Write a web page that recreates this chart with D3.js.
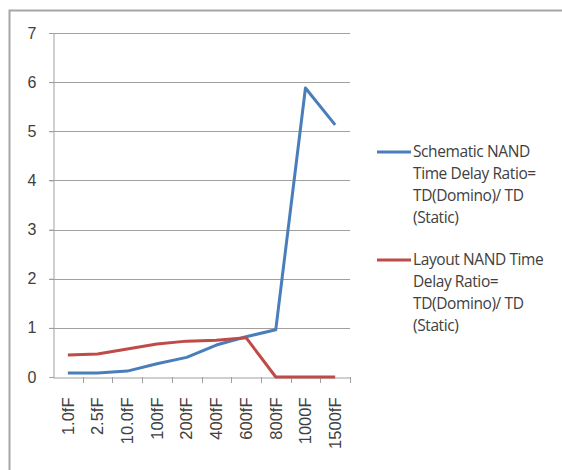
<!DOCTYPE html>
<html>
<head>
<meta charset="utf-8">
<script src="https://cdn.jsdelivr.net/npm/d3@7"></script>
<style>
  html, body { margin: 0; padding: 0; background: #fff; }
  svg { display: block; font-family: "Open Sans", "Liberation Sans", sans-serif; }
</style>
</head>
<body>
<svg id="chart" width="562" height="470"></svg>
<script>
// loads and delay ratios
const categories = ["1.0fF", "2.5fF", "10.0fF", "100fF", "200fF", "400fF", "600fF", "800fF", "1000F", "1500fF"];
const schematicValues = [0.08, 0.08, 0.12, 0.27, 0.4, 0.65, 0.82, 0.96, 5.88, 5.13];
const layoutValues = [0.45, 0.47, 0.57, 0.67, 0.73, 0.75, 0.8, 0.0, 0.0, 0.0];
const yTicks = [0, 1, 2, 3, 4, 5, 6, 7];

const seriesList = [
    { name: ["Schematic NAND", "Time Delay Ratio=", "TD(Domino)/ TD", "(Static)"], values: schematicValues, color: "#4a7ebb" },
    { name: ["Layout NAND Time", "Delay Ratio=", "TD(Domino)/ TD", "(Static)"], values: layoutValues, color: "#be4b48" }
];

const svg = d3.select("#chart");

// outer frame (only the top and left edges show in the crop)
svg.append("rect")
    .attr("x", 9.5).attr("y", 10.5)
    .attr("width", 600).attr("height", 500)
    .attr("fill", "none")
    .attr("stroke", "#a6a6a6")
    .attr("stroke-width", 2);

const plot = { left: 53, right: 350, top: 33, bottom: 377 };

const x = d3.scaleBand()
    .domain(categories)
    .range([plot.left, plot.right]);

const y = d3.scaleLinear()
    .domain([0, 7])
    .range([plot.bottom, plot.top]);

// gridlines
svg.append("g")
    .selectAll("line")
    .data(yTicks.filter(d => d > 0))
    .enter()
    .append("line")
    .attr("x1", plot.left - 4).attr("x2", plot.right)
    .attr("y1", d => Math.round(y(d)) + 0.5).attr("y2", d => Math.round(y(d)) + 0.5)
    .attr("stroke", "#a0a0a0")
    .attr("stroke-width", 1);

// y axis
const yAxis = svg.append("g")
    .attr("transform", `translate(${plot.left + 0.5},0)`)
    .call(d3.axisLeft(y).tickValues(yTicks).tickFormat(d3.format("d")).tickSize(4).tickPadding(13));
yAxis.select(".domain").attr("stroke", "#a0a0a0");
yAxis.selectAll(".tick line").attr("stroke", "#a0a0a0");
yAxis.selectAll(".tick text")
    .attr("fill", "#404040")
    .style("font-size", "16px");

// x axis
const xAxis = svg.append("g")
    .attr("transform", `translate(0,${Math.round(plot.bottom) + 0.5})`)
    .call(d3.axisBottom(x).tickSizeOuter(0).tickSizeInner(0));
xAxis.select(".domain").attr("stroke", "#a0a0a0");
xAxis.selectAll(".tick line").remove();
xAxis.selectAll(".tick text")
    .attr("fill", "#404040")
    .style("font-size", "16.5px")
    .attr("transform", "rotate(-90)")
    .attr("x", -20)
    .attr("y", 0)
    .attr("dy", "0.35em")
    .style("text-anchor", "end");

// category boundary ticks
svg.append("g")
    .selectAll("line")
    .data(categories)
    .enter()
    .append("line")
    .attr("x1", d => Math.round(x(d) + x.bandwidth()) + 0.5)
    .attr("x2", d => Math.round(x(d) + x.bandwidth()) + 0.5)
    .attr("y1", plot.bottom)
    .attr("y2", plot.bottom + 6)
    .attr("stroke", "#a0a0a0");

// series lines
const line = d3.line()
    .x((d, i) => x(categories[i]) + x.bandwidth() / 2)
    .y(d => y(d));

seriesList.forEach(s => {
    svg.append("path")
        .datum(s.values)
        .attr("fill", "none")
        .attr("stroke", s.color)
        .attr("stroke-width", 3)
        .attr("stroke-linejoin", "round")
        .attr("d", line);
});

// legend
const legendTop = [152, 260];
const lineGap = 21.7;
seriesList.forEach((s, i) => {
    const g = svg.append("g").attr("transform", `translate(377,${legendTop[i]})`);
    g.append("line")
        .attr("x1", 0).attr("x2", 34)
        .attr("y1", 0).attr("y2", 0)
        .attr("stroke", s.color)
        .attr("stroke-width", 3);
    g.selectAll("text")
        .data(s.name)
        .enter()
        .append("text")
        .attr("x", 36)
        .attr("y", (d, j) => j * lineGap)
        .attr("dy", "0.35em")
        .attr("fill", "#404040")
        .style("font-size", "15.5px")
        .style("letter-spacing", "-0.4px")
        .text(d => d);
});
</script>
</body>
</html>
